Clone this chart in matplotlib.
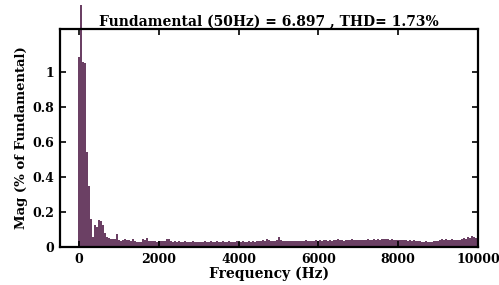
import numpy as np
import matplotlib
matplotlib.use("Agg")
import matplotlib.pyplot as plt
from matplotlib.transforms import Bbox, TransformedBbox

# harmonic spectrum, 50 Hz bins from 0 to 10000 Hz (% of fundamental)
freq_step = 50
mag = [
    1.085, 100.0, 1.057, 1.05, 0.54, 0.35, 0.16, 0.057, 0.124, 0.117,
    0.157, 0.15, 0.124, 0.08, 0.057, 0.05, 0.044, 0.044, 0.045, 0.076,
    0.038, 0.036, 0.040, 0.043, 0.038, 0.040, 0.037, 0.044, 0.036, 0.029,
    0.031, 0.030, 0.044, 0.038, 0.054, 0.034, 0.036, 0.033, 0.035, 0.031,
    0.034, 0.032, 0.036, 0.033, 0.048, 0.045, 0.035, 0.031, 0.033, 0.030,
    0.032, 0.030, 0.031, 0.033, 0.029, 0.031, 0.030, 0.032, 0.030, 0.031,
    0.029, 0.031, 0.030, 0.033, 0.030, 0.029, 0.032, 0.031, 0.030, 0.033,
    0.031, 0.030, 0.032, 0.029, 0.031, 0.034, 0.030, 0.031, 0.029, 0.032,
    0.031, 0.030, 0.033, 0.031, 0.029, 0.032, 0.030, 0.034, 0.031, 0.032,
    0.033, 0.035, 0.038, 0.036, 0.048, 0.042, 0.036, 0.035, 0.037, 0.040,
    0.057, 0.038, 0.036, 0.035, 0.037, 0.034, 0.036, 0.033, 0.035, 0.034,
    0.036, 0.035, 0.037, 0.034, 0.038, 0.036, 0.035, 0.037, 0.036, 0.038,
    0.037, 0.039, 0.036, 0.038, 0.040, 0.037, 0.039, 0.036, 0.038, 0.041,
    0.046, 0.038, 0.040, 0.037, 0.039, 0.041, 0.038, 0.046, 0.040, 0.039,
    0.041, 0.038, 0.040, 0.042, 0.039, 0.043, 0.040, 0.041, 0.044, 0.040,
    0.045, 0.042, 0.048, 0.044, 0.046, 0.043, 0.041, 0.045, 0.042, 0.040,
    0.042, 0.039, 0.041, 0.038, 0.040, 0.037, 0.039, 0.036, 0.038, 0.035,
    0.036, 0.033, 0.031, 0.030, 0.032, 0.029, 0.031, 0.030, 0.033, 0.032,
    0.036, 0.040, 0.043, 0.041, 0.044, 0.042, 0.040, 0.043, 0.041, 0.040,
    0.039, 0.042, 0.045, 0.050, 0.048, 0.058, 0.052, 0.062, 0.055, 0.050,
    0.060,
]
freq = np.arange(len(mag)) * freq_step
title = "Fundamental (50Hz) = 6.897 , THD= 1.73%"

plt.rcParams['font.family'] = ['DejaVu Serif']
plt.rcParams['font.weight'] = 'bold'

fig = plt.figure(figsize=(4.99, 2.85), dpi=100)
ax = fig.add_axes([60/499, 38/285, 418/499, 218/285])

bars = ax.bar(freq, mag, width=freq_step, color='#6b4064', linewidth=0)
ax.set_xlim(-480, 10000)
ax.set_ylim(0, 1.245)
# the fundamental bar pokes out above the box like in the original
bars[1].set_clip_box(TransformedBbox(Bbox([[-480, 0], [10000, 1.38]]), ax.transData))

ax.set_xticks(np.arange(0, 10001, 2000))
ax.set_yticks([0, 0.2, 0.4, 0.6, 0.8, 1])
ax.set_yticklabels(['0', '0.2', '0.4', '0.6', '0.8', '1'])
ax.tick_params(direction='in', top=True, right=True, length=4, width=1.2,
               labelsize=9, pad=4)
for s in ax.spines.values():
    s.set_linewidth(1.6)

ax.set_title(title, fontsize=10, fontweight='bold', pad=2)
ax.set_xlabel("Frequency (Hz)", fontsize=10, fontweight='bold', labelpad=1)
ax.set_ylabel("Mag (% of Fundamental)", fontsize=9.5, fontweight='bold', labelpad=3)

fig.savefig("out.png", dpi=100)
